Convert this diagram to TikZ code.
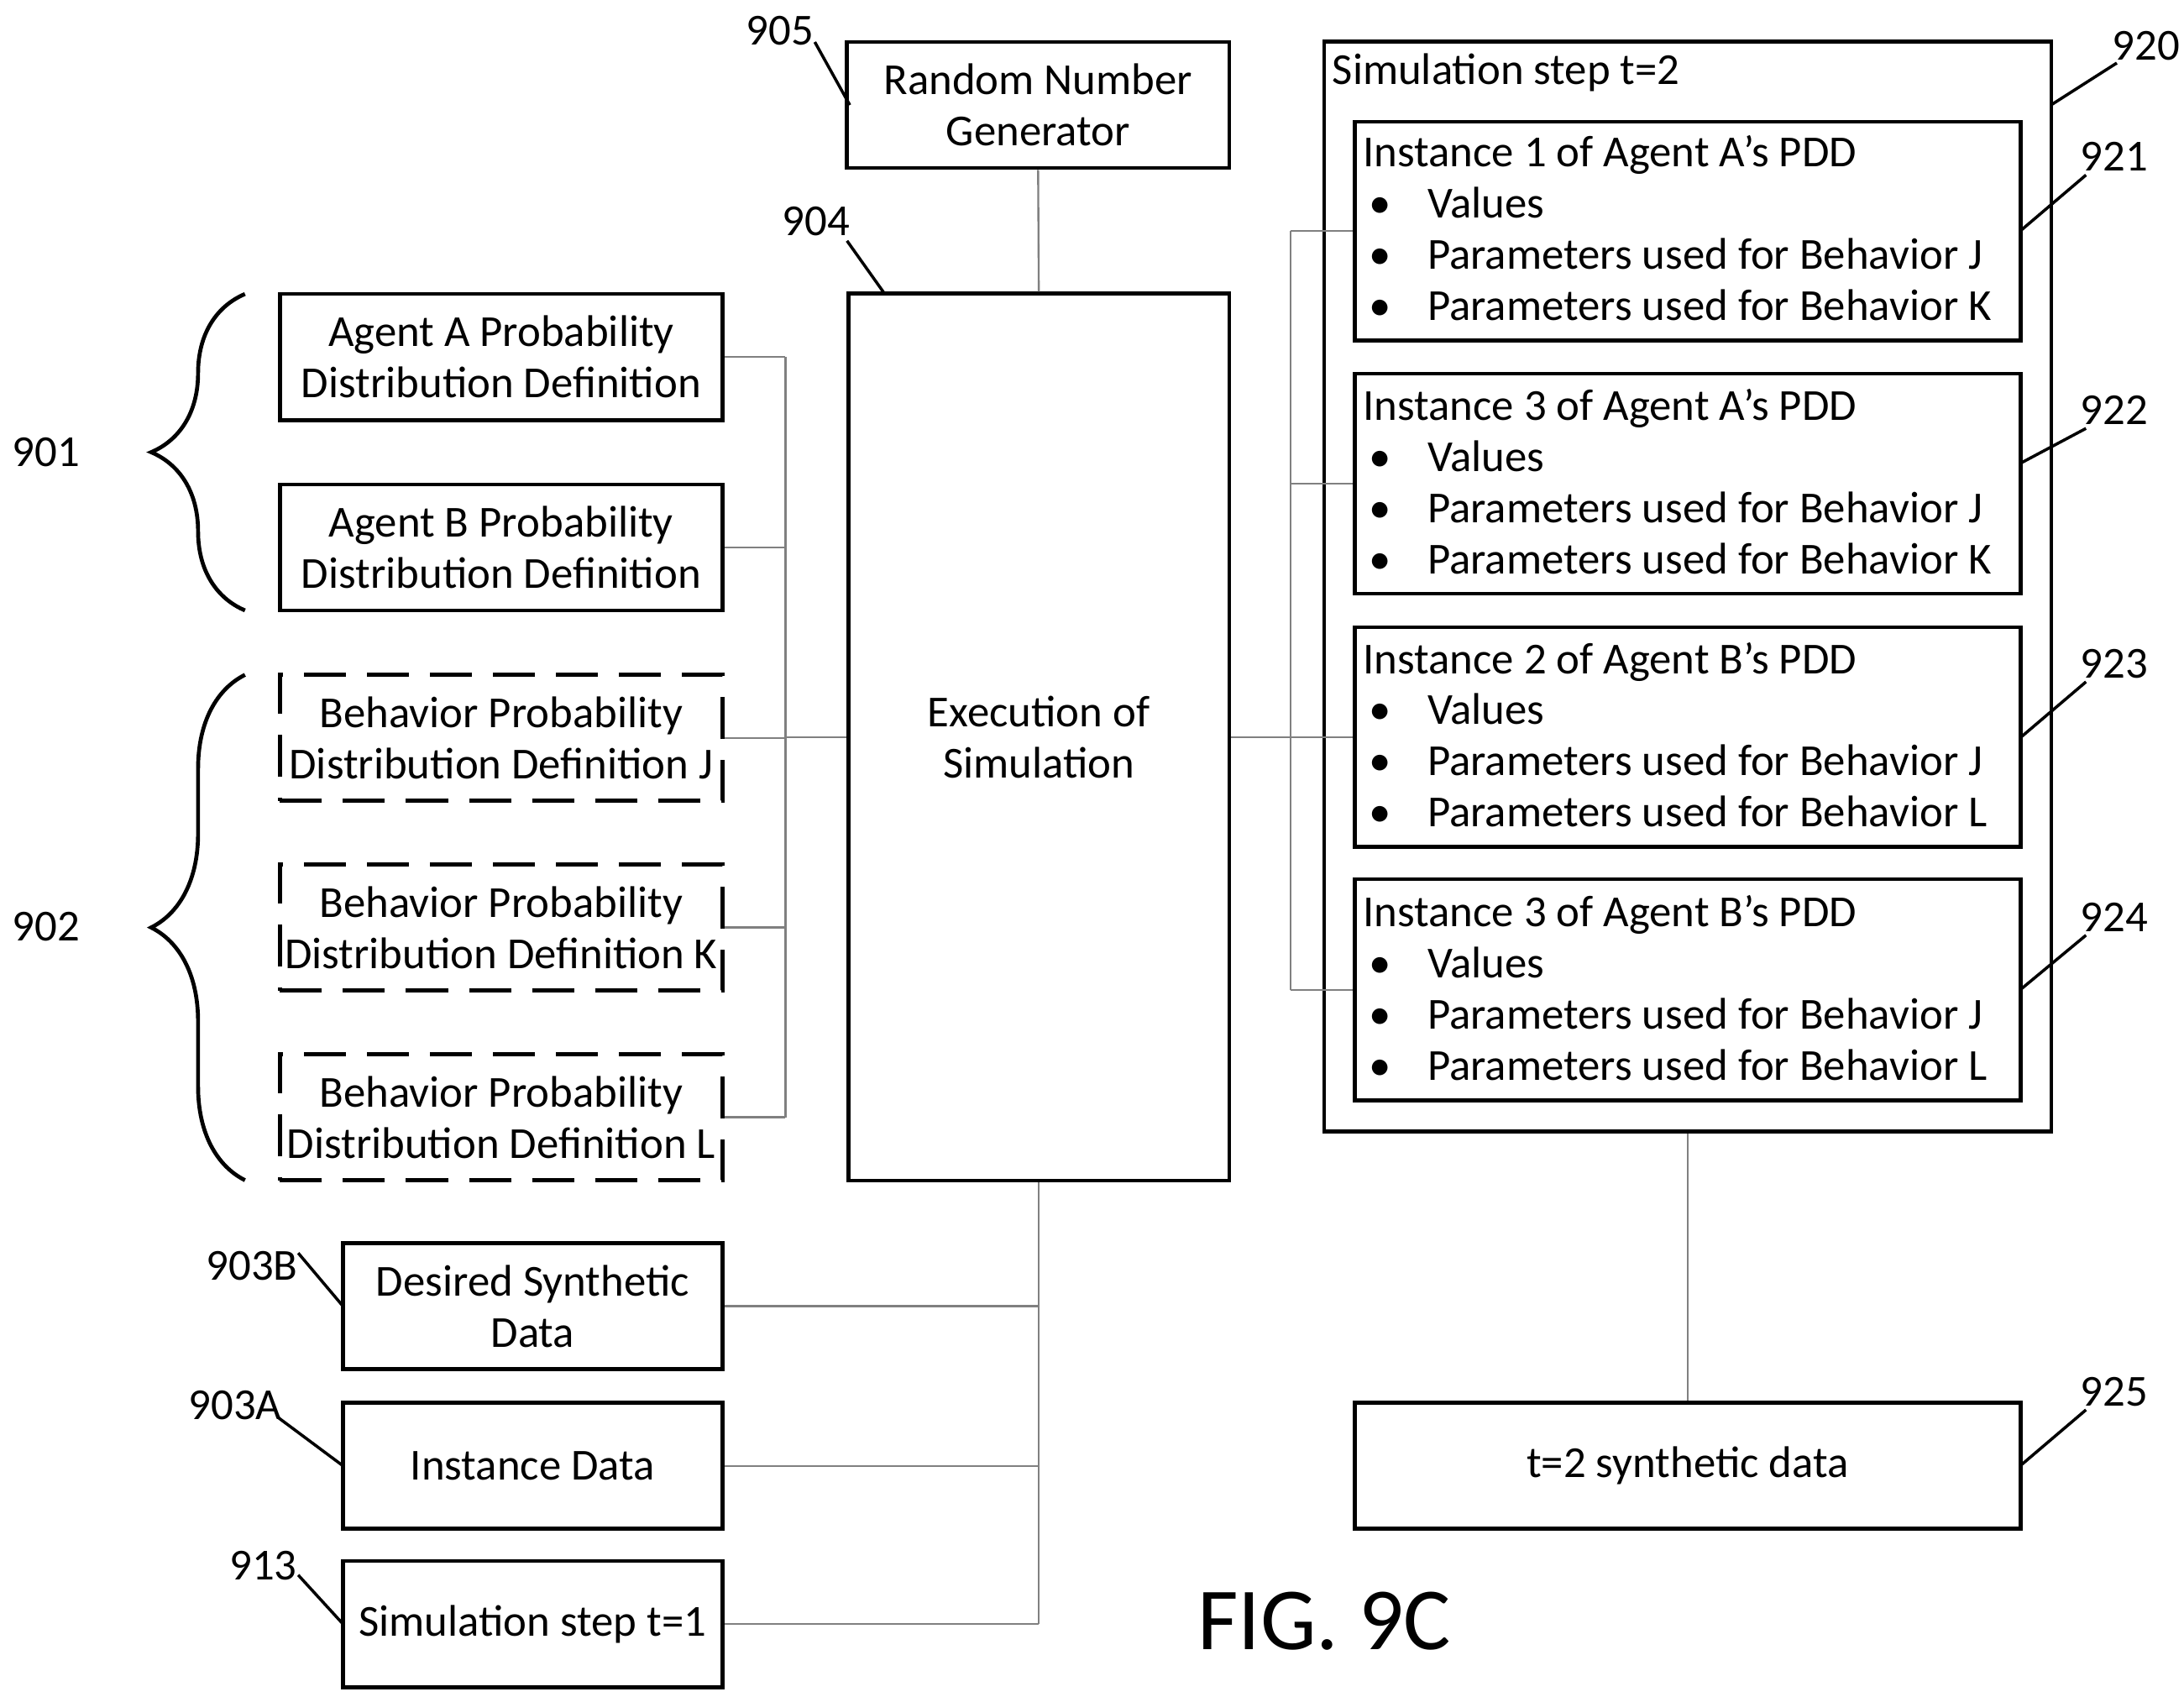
\documentclass[tikz,border=0pt]{standalone}
\usepackage{fontspec}
\setmainfont{Carlito}
\usetikzlibrary{decorations.pathreplacing}
\begin{document}
\begin{tikzpicture}[x=0.01cm,y=-0.01cm,
  font=\fontsize{9}{10.4}\selectfont,
  box/.style={draw,line width=0.8pt,inner sep=0pt,align=center},
  dbox/.style={box,dash pattern=on 0.3cm off 0.15cm},
  conn/.style={draw=gray,line width=0.4pt},
  lead/.style={draw,line width=0.6pt},
  lbl/.style={inner sep=1pt},
  brc/.style={line width=0.8pt,decorate,decoration={brace,amplitude=0.67cm}}]
\useasboundingbox (0,0) rectangle (1560,1212);
% boxes
\node[box,minimum width=2.73cm,minimum height=0.9cm] (rng) at (741.5,75) {Random Number\\Generator};
\node[box,minimum width=2.72cm,minimum height=6.33cm] (ex) at (742,526.5) {Execution of\\Simulation};
\node[box,minimum width=3.16cm,minimum height=0.9cm] (aA) at (358,255) {Agent A Probability\\Distribution Definition};
\node[box,minimum width=3.16cm,minimum height=0.9cm] (aB) at (358,391) {Agent B Probability\\Distribution Definition};
\node[dbox,minimum width=3.16cm,minimum height=0.9cm] (bJ) at (358,527) {Behavior Probability\\Distribution Definition J};
\node[dbox,minimum width=3.16cm,minimum height=0.9cm] (bK) at (358,662.5) {Behavior Probability\\Distribution Definition K};
\node[dbox,minimum width=3.16cm,minimum height=0.9cm] (bL) at (358,798) {Behavior Probability\\Distribution Definition L};
\node[box,minimum width=2.71cm,minimum height=0.9cm] (ds) at (380.5,933) {Desired Synthetic\\Data};
\node[box,minimum width=2.71cm,minimum height=0.9cm] (id) at (380.5,1047) {Instance Data};
\node[box,minimum width=2.71cm,minimum height=0.9cm] (s1) at (380.5,1160) {Simulation step t=1};
\node[box,minimum width=5.19cm,minimum height=7.78cm] (out) at (1205.5,419) {};
\node[anchor=west,inner sep=0pt] (ttl) at (951,52) {Simulation step t=2};
\node[box,minimum width=4.75cm,minimum height=1.56cm] (i1) at (1205.5,165) {};
\node[box,minimum width=4.75cm,minimum height=1.57cm] (i2) at (1205.5,345.5) {};
\node[box,minimum width=4.75cm,minimum height=1.57cm] (i3) at (1205.5,526.5) {};
\node[box,minimum width=4.75cm,minimum height=1.58cm] (i4) at (1205.5,707) {};
\node[box,minimum width=4.75cm,minimum height=0.9cm] (t2) at (1205.5,1047) {t=2 synthetic data};
\newcommand{\bl}[1]{\makebox[0.46cm][l]{\hspace{0.04cm}\textbullet}#1}
\node[anchor=north west,align=left,inner sep=0pt] (i1t) at (973,96) {Instance 1 of Agent A's PDD\\\bl{Values}\\\bl{Parameters used for Behavior J}\\\bl{Parameters used for Behavior K}};
\node[anchor=north west,align=left,inner sep=0pt] (i2t) at (973,277) {Instance 3 of Agent A's PDD\\\bl{Values}\\\bl{Parameters used for Behavior J}\\\bl{Parameters used for Behavior K}};
\node[anchor=north west,align=left,inner sep=0pt] (i3t) at (973,458) {Instance 2 of Agent B's PDD\\\bl{Values}\\\bl{Parameters used for Behavior J}\\\bl{Parameters used for Behavior L}};
\node[anchor=north west,align=left,inner sep=0pt] (i4t) at (973,639) {Instance 3 of Agent B's PDD\\\bl{Values}\\\bl{Parameters used for Behavior J}\\\bl{Parameters used for Behavior L}};
\node[font=\fontsize{18}{20}\selectfont] (fig) at (946,1158) {FIG. 9C};
% connectors left
\coordinate (bus) at (561,0);
\foreach \n in {aA,aB,bJ,bK,bL} \draw[conn] (\n.east) -- (\n.east -| bus);
\draw[conn] (bus |- aA.east) -- (bus |- bL.east);
\draw[conn] (bus |- ex.west) -- (ex.west);
\draw[conn] (rng.south) -- (ex.north);
% bottom
\draw[conn] (ex.south) -- (ex.south |- s1.east);
\foreach \n in {ds,id,s1} \draw[conn] (\n.east) -- (\n.east -| ex.south);
% right
\coordinate (rb) at (922,0);
\draw[conn] (ex.east) -- (rb |- ex.east);
\draw[conn] (rb |- i1.west) -- (rb |- i4.west);
\foreach \n in {i1,i2,i3,i4} \draw[conn] (rb |- \n.west) -- (\n.west);
\draw[conn] (out.south) -- (t2.north);
% braces
\draw[brc] (175,436) -- (175,210);
\draw[brc] (175,843) -- (175,482);
\node[lbl] (l901) at (33,323) {901};
\node[lbl] (l902) at (33,662) {902};
% leaders
\node[lbl] (l905) at (557,22) {905};
\draw[lead] (582,30) -- (607,75);
\node[lbl] (l904) at (583,158) {904};
\draw[lead] (605,172) -- (632,210);
\node[lbl] (l920) at (1533,33) {920};
\draw[lead] (1512,45) -- (1465,75);
\node[lbl] (l921) at (1510,112) {921};
\draw[lead] (1490,125) -- (1443,165);
\node[lbl] (l922) at (1510,293) {922};
\draw[lead] (1490,306) -- (1443,331);
\node[lbl] (l923) at (1510,474) {923};
\draw[lead] (1490,487) -- (1443,527);
\node[lbl] (l924) at (1510,655) {924};
\draw[lead] (1490,668) -- (1443,707);
\node[lbl] (l925) at (1510,994) {925};
\draw[lead] (1490,1007) -- (1443,1047);
\node[lbl] (l903b) at (180,904) {903B};
\draw[lead] (213,895) -- (245,933);
\node[lbl] (l903a) at (168,1004) {903A};
\draw[lead] (198,1012) -- (245,1047);
\node[lbl] (l913) at (188,1118) {913};
\draw[lead] (213,1125) -- (245,1160);
\end{tikzpicture}
\end{document}
